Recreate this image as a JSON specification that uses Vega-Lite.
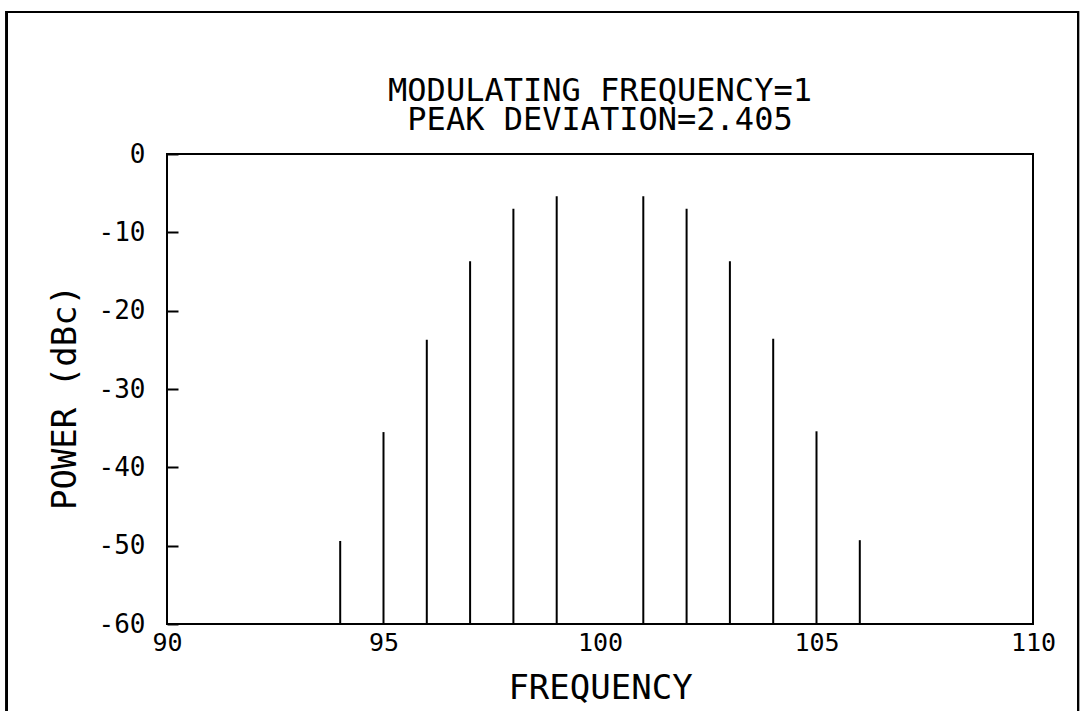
{
  "$schema": "https://vega.github.io/schema/vega-lite/v6.json",
  "autosize": "none",
  "width": 866,
  "height": 470,
  "padding": {"left": 167, "top": 154, "right": 53, "bottom": 87},
  "background": "white",
  "config": {
    "font": "DejaVu Sans Mono",
    "view": {"stroke": "black", "strokeWidth": 2},
    "axis": {"domain": false, "grid": false, "labelFont": "DejaVu Sans Mono", "titleFont": "DejaVu Sans Mono", "labelColor": "black", "titleColor": "black", "titleFontWeight": "normal", "tickColor": "black"}
  },
  "title": {
    "text": ["MODULATING FREQUENCY=1", "PEAK DEVIATION=2.405"],
    "font": "DejaVu Sans Mono",
    "fontSize": 32,
    "fontWeight": "normal",
    "color": "black",
    "lineHeight": 29,
    "anchor": "middle",
    "frame": "group",
    "baseline": "bottom",
    "offset": 16,
    "dy": 174
  },
  "data": {
    "values": [
      {"freq": 94, "power": -49.4},
      {"freq": 95, "power": -35.5},
      {"freq": 96, "power": -23.7},
      {"freq": 97, "power": -13.7},
      {"freq": 98, "power": -7.0},
      {"freq": 99, "power": -5.4},
      {"freq": 101, "power": -5.4},
      {"freq": 102, "power": -7.0},
      {"freq": 103, "power": -13.7},
      {"freq": 104, "power": -23.6},
      {"freq": 105, "power": -35.4},
      {"freq": 106, "power": -49.3}
    ]
  },
  "layer": [
    {
      "mark": {"type": "rule", "color": "black", "strokeWidth": 2},
      "encoding": {
        "x": {
          "field": "freq", "type": "quantitative",
          "scale": {"domain": [90, 110], "nice": false, "zero": false},
          "axis": {
            "title": "FREQUENCY", "values": [90, 95, 100, 105, 110],
            "ticks": false, "labelFlush": false, "labelFontSize": 25, "labelPadding": 6,
            "titleFontSize": 34, "titleBaseline": "alphabetic", "titleY": 74
          }
        },
        "y": {
          "field": "power", "type": "quantitative",
          "scale": {"domain": [-60, 0], "nice": false, "zero": false},
          "axis": {
            "title": "POWER (dBc)",
            "values": [-60, -55, -50, -45, -40, -35, -30, -25, -20, -15, -10, -5, 0],
            "labelExpr": "datum.value % 10 == 0 ? '' + datum.value : ''",
            "labelFlush": false,
            "tickSize": -11, "tickWidth": 2, "labelFontSize": 26, "labelPadding": 33,
            "titleFontSize": 34, "titleBaseline": "alphabetic", "titleX": -92, "titleY": 243
          }
        },
        "y2": {"datum": -60}
      }
    },
    {
      "mark": {"type": "rect", "filled": false, "stroke": "black", "strokeWidth": 2, "clip": false},
      "encoding": {
        "x": {"datum": 86.3, "type": "quantitative"},
        "x2": {"datum": 111.04},
        "y": {"datum": 18.13, "type": "quantitative"},
        "y2": {"datum": -72.3}
      }
    }
  ]
}
